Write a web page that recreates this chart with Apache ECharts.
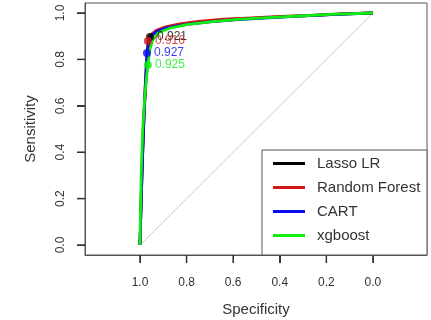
<!DOCTYPE html>
<html>
<head>
<meta charset="utf-8">
<script src="https://cdn.jsdelivr.net/npm/echarts@6/dist/echarts.min.js"></script>
<style>
  html, body { margin: 0; padding: 0; background: #fff; }
  #chart { width: 431px; height: 320px; }
</style>
</head>
<body>
<div id="chart"></div>
<script>
// ROC curves: specificity (x, reversed) vs sensitivity (y)
const modelNames = ['Lasso LR', 'Random Forest', 'CART', 'xgboost'];
const modelColors = ['#000000', '#d01818', '#0a0aee', '#10ee10'];

const lassoSpec = [1.0, 0.996, 0.99, 0.983, 0.975, 0.968, 0.962, 0.957, 0.945, 0.92, 0.88, 0.82, 0.74, 0.62, 0.50, 0.38, 0.25, 0.12, 0.0];
const lassoSens = [0.0, 0.15, 0.35, 0.55, 0.70, 0.80, 0.86, 0.897, 0.912, 0.925, 0.938, 0.950, 0.962, 0.972, 0.978, 0.984, 0.990, 0.996, 1.0];

const rfSpec = [1.0, 0.997, 0.992, 0.985, 0.978, 0.971, 0.966, 0.955, 0.93, 0.89, 0.83, 0.75, 0.64, 0.52, 0.40, 0.27, 0.14, 0.0];
const rfSens = [0.0, 0.12, 0.32, 0.52, 0.68, 0.80, 0.879, 0.905, 0.925, 0.94, 0.953, 0.964, 0.973, 0.979, 0.985, 0.990, 0.996, 1.0];

const cartSpec = [1.0, 0.995, 0.989, 0.982, 0.976, 0.970, 0.962, 0.948, 0.925, 0.88, 0.80, 0.70, 0.58, 0.45, 0.32, 0.18, 0.0];
const cartSens = [0.0, 0.18, 0.38, 0.57, 0.71, 0.828, 0.875, 0.905, 0.922, 0.937, 0.951, 0.962, 0.971, 0.979, 0.986, 0.993, 1.0];

const xgbSpec = [1.0, 0.998, 0.994, 0.988, 0.98, 0.972, 0.966, 0.958, 0.945, 0.92, 0.87, 0.80, 0.70, 0.58, 0.45, 0.32, 0.18, 0.0];
const xgbSens = [0.0, 0.14, 0.33, 0.50, 0.63, 0.72, 0.776, 0.84, 0.885, 0.915, 0.935, 0.950, 0.962, 0.972, 0.980, 0.987, 0.994, 1.0];

// best-threshold points and their labels
const bestSpec = [0.957, 0.966, 0.970, 0.966];
const bestSens = [0.897, 0.879, 0.828, 0.776];
const bestLabels = ['0.921', '0.916', '0.927', '0.925'];

const tickValues = [0, 0.2, 0.4, 0.6, 0.8, 1.0];
const diagSpec = [1.0, 0.0];
const diagSens = [0.0, 1.0];

const xMin = -0.232, xMax = 1.236;
const yMin = -0.043, yMax = 1.043;

const specs = [lassoSpec, rfSpec, cartSpec, xgbSpec];
const senses = [lassoSens, rfSens, cartSens, xgbSens];
const pair = (xs, ys) => xs.map((x, i) => [x, ys[i]]);

const font = 'Liberation Sans, Arial, sans-serif';
const ink = '#333';
const tickColor = '#333';
const tickLen = 8;

const series = [{
  type: 'line',
  data: pair(diagSpec, diagSens),
  symbol: 'none',
  silent: true,
  lineStyle: { color: '#cccccc', width: 1 },
  z: 1
}];

modelNames.forEach((name, i) => {
  series.push({
    name: name,
    type: 'line',
    data: pair(specs[i], senses[i]),
    symbol: 'none',
    color: modelColors[i],
    lineStyle: { color: modelColors[i], width: 2.8 },
    z: 2 + i
  });
});

modelNames.forEach((name, i) => {
  series.push({
    type: 'scatter',
    data: [[bestSpec[i], bestSens[i]]],
    symbolSize: 8,
    itemStyle: { color: modelColors[i] },
    label: {
      show: true,
      position: 'right',
      distance: 3,
      formatter: bestLabels[i],
      color: modelColors[i],
      fontFamily: font,
      fontSize: 12
    },
    z: 8
  });
});

// outward tick marks on the bottom and left box edges
series.push({
  type: 'custom',
  silent: true,
  clip: false,
  data: tickValues.map(v => [v, yMin]),
  renderItem: (params, api) => {
    const p = api.coord([api.value(0), api.value(1)]);
    return {
      type: 'line',
      shape: { x1: p[0], y1: p[1], x2: p[0], y2: p[1] + tickLen },
      style: { stroke: tickColor, lineWidth: 1.5 }
    };
  },
  z: 9
});
series.push({
  type: 'custom',
  silent: true,
  clip: false,
  data: tickValues.map(v => [xMax, v]),
  renderItem: (params, api) => {
    const p = api.coord([api.value(0), api.value(1)]);
    return {
      type: 'line',
      shape: { x1: p[0], y1: p[1], x2: p[0] - tickLen, y2: p[1] },
      style: { stroke: tickColor, lineWidth: 1.5 }
    };
  },
  z: 9
});

const axisLine = { show: true, onZero: false, lineStyle: { color: '#555', width: 1 } };
const axisTick = { show: true, length: tickLen, customValues: tickValues, lineStyle: { color: tickColor, width: 1 } };

const chart = echarts.init(document.getElementById('chart'));
chart.setOption({
  animation: false,
  backgroundColor: '#fff',
  grid: {
    left: 85, right: 4, top: 3, bottom: 65,
    outerBoundsMode: 'none',
    containLabel: false,
    show: true, borderColor: '#555', borderWidth: 1
  },
  xAxis: {
    type: 'value',
    inverse: true,
    min: xMin,
    max: xMax,
    name: 'Specificity',
    nameLocation: 'middle',
    nameGap: 47,
    nameTextStyle: { color: ink, fontFamily: font, fontSize: 15 },
    axisLine: axisLine,
    splitLine: { show: false },
    axisTick: axisTick,
    axisLabel: {
      customValues: tickValues,
      margin: 22,
      color: ink,
      fontFamily: font,
      fontSize: 12,
      formatter: v => v.toFixed(1)
    }
  },
  yAxis: {
    type: 'value',
    min: yMin,
    max: yMax,
    name: 'Sensitivity',
    nameLocation: 'middle',
    nameGap: 47,
    nameTextStyle: { color: ink, fontFamily: font, fontSize: 15 },
    axisLine: axisLine,
    splitLine: { show: false },
    axisTick: axisTick,
    axisLabel: {
      customValues: tickValues,
      rotate: 90,
      margin: 18,
      color: ink,
      fontFamily: font,
      fontSize: 12,
      formatter: v => v.toFixed(1)
    }
  },
  graphic: [{
    type: 'rect',
    shape: { x: 262, y: 150, width: 165, height: 105 },
    style: { fill: '#fff', stroke: '#555', lineWidth: 1 },
    z: 20
  }],
  legend: {
    data: modelNames,
    orient: 'vertical',
    left: 273,
    top: 156,
    padding: 0,
    itemGap: 9,
    itemWidth: 32,
    itemHeight: 3,
    icon: 'rect',
    textStyle: {
      color: ink,
      fontFamily: font,
      fontSize: 15,
      lineHeight: 14,
      padding: [0, 0, 0, 7]
    },
    z: 30
  },
  series: series
});
</script>
</body>
</html>
